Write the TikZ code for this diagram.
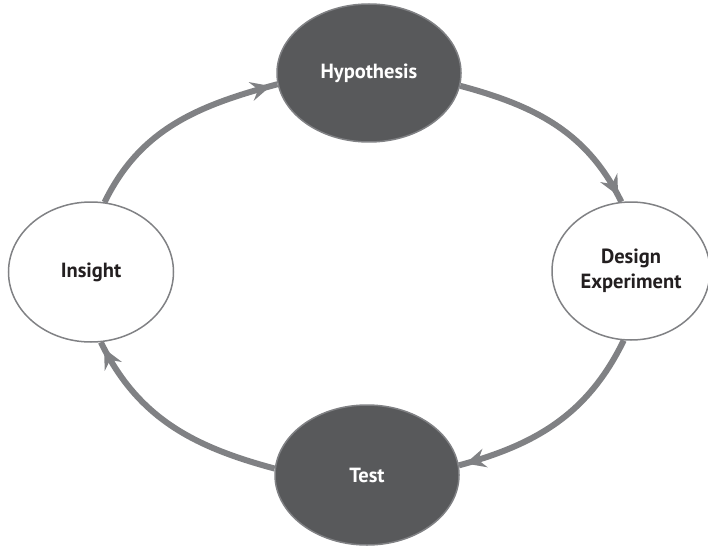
\documentclass[tikz,border=0pt]{standalone}
\usepackage{fontspec}
\setmainfont{PT Sans}
\usetikzlibrary{shapes.geometric, arrows.meta, decorations.markings}
\definecolor{cinzaescuro}{HTML}{58595B}
\definecolor{cinzalinha}{HTML}{808184}
\definecolor{textoescuro}{HTML}{231F20}
\begin{document}
\begin{tikzpicture}[x=1pt, y=1pt, >=Stealth,
	etapa/.style={ellipse, draw=cinzalinha, line width=1.5pt, inner sep=0pt, align=center,
		font=\fontsize{20.5}{25}\selectfont\bfseries},
	escura/.style={etapa, fill=cinzaescuro, text=white},
	clara/.style={etapa, fill=white, text=textoescuro},
	seta/.style={draw=cinzalinha, line width=6pt, postaction={decorate},
		decoration={markings, mark=at position -7pt with
			{\arrow[cinzalinha]{Stealth[length=20pt, width=19pt, inset=7pt]}}}}]
	\useasboundingbox (0,0) rectangle (708,547);
	
	% Etapas
	\node[escura, minimum width=184pt, minimum height=138pt] (H) at (369,474) {Hypothesis};
	\node[clara, minimum width=158pt, minimum height=138pt] (D) at (631,276) {Design\\Experiment};
	\node[escura, minimum width=184pt, minimum height=140pt] (T) at (367,72) {Test};
	\node[clara, minimum width=165pt, minimum height=140pt] (I) at (91,275) {Insight};
	
	% Setas do ciclo
	\draw[seta] (H.-8) to[out=-15, in=116] (D.98);
	\draw[seta] (D.-96) to[out=-116, in=15] (T.6);
	\draw[seta] (T.176) to[out=165, in=-64] (I.-82);
	\draw[seta] (I.79) to[out=64, in=195] (H.187);
\end{tikzpicture}
\end{document}
